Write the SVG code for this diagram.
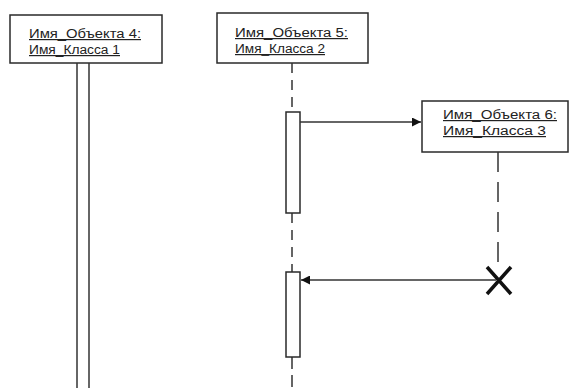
<svg xmlns="http://www.w3.org/2000/svg" width="571" height="388" viewBox="0 0 571 388">
<style>
.box{fill:#fff;stroke:#2a2a2a;stroke-width:1.5}
.act{fill:#fff;stroke:#2a2a2a;stroke-width:1.5}
.lbl{font-family:"Liberation Sans",Arial,sans-serif;font-size:12px;fill:#222;text-decoration:underline}
.life{stroke:#333;stroke-width:1.5;fill:none}
.msg{stroke:#333;stroke-width:1.5;fill:none}
</style>
<defs>
<marker id="ah" viewBox="0 0 10 10" refX="10" refY="5" markerWidth="14" markerHeight="9" markerUnits="userSpaceOnUse" orient="auto">
<path d="M0,0 L10,5 L0,10 z" fill="#111"/>
</marker>
</defs>
<rect width="571" height="388" fill="#fff"/>
<g id="obj4">
<rect class="box" x="10" y="15" width="152" height="48"/>
<text class="lbl" x="29" y="38" textLength="112" lengthAdjust="spacingAndGlyphs">Имя_Объекта 4:</text>
<text class="lbl" x="29" y="54" textLength="91" lengthAdjust="spacingAndGlyphs">Имя_Класса 1</text>
<line class="life" x1="77" y1="63" x2="77" y2="388"/>
<line class="life" x1="89" y1="63" x2="89" y2="388"/>
</g>
<g id="obj5">
<rect class="box" x="217" y="13" width="151" height="50"/>
<text class="lbl" x="235" y="37" textLength="113" lengthAdjust="spacingAndGlyphs">Имя_Объекта 5:</text>
<text class="lbl" x="235" y="53" textLength="90" lengthAdjust="spacingAndGlyphs">Имя_Класса 2</text>
<line class="life" x1="292" y1="63" x2="292" y2="112" stroke-dasharray="10 7"/>
<line class="life" x1="292" y1="213" x2="292" y2="272" stroke-dasharray="10 7"/>
<line class="life" x1="292" y1="357" x2="292" y2="388" stroke-dasharray="12 6"/>
<rect class="act" x="286" y="112" width="14" height="101"/>
<rect class="act" x="286" y="272" width="14" height="85"/>
</g>
<g id="obj6">
<rect class="box" x="422" y="101" width="146" height="51"/>
<text class="lbl" x="443" y="119" textLength="114" lengthAdjust="spacingAndGlyphs">Имя_Объекта 6:</text>
<text class="lbl" x="443" y="135" textLength="103" lengthAdjust="spacingAndGlyphs">Имя_Класса 3</text>
<line class="life" x1="498" y1="152" x2="498" y2="270" stroke-dasharray="20 10"/>
<path d="M487,267 L511,294 M511,267 L487,294" stroke="#111" stroke-width="3.5" fill="none"/>
</g>
<g id="connectors">
<line class="msg" x1="300" y1="122" x2="421" y2="122" marker-end="url(#ah)"/>
<line class="msg" x1="496" y1="280" x2="301" y2="280" marker-end="url(#ah)"/>
</g>
</svg>
